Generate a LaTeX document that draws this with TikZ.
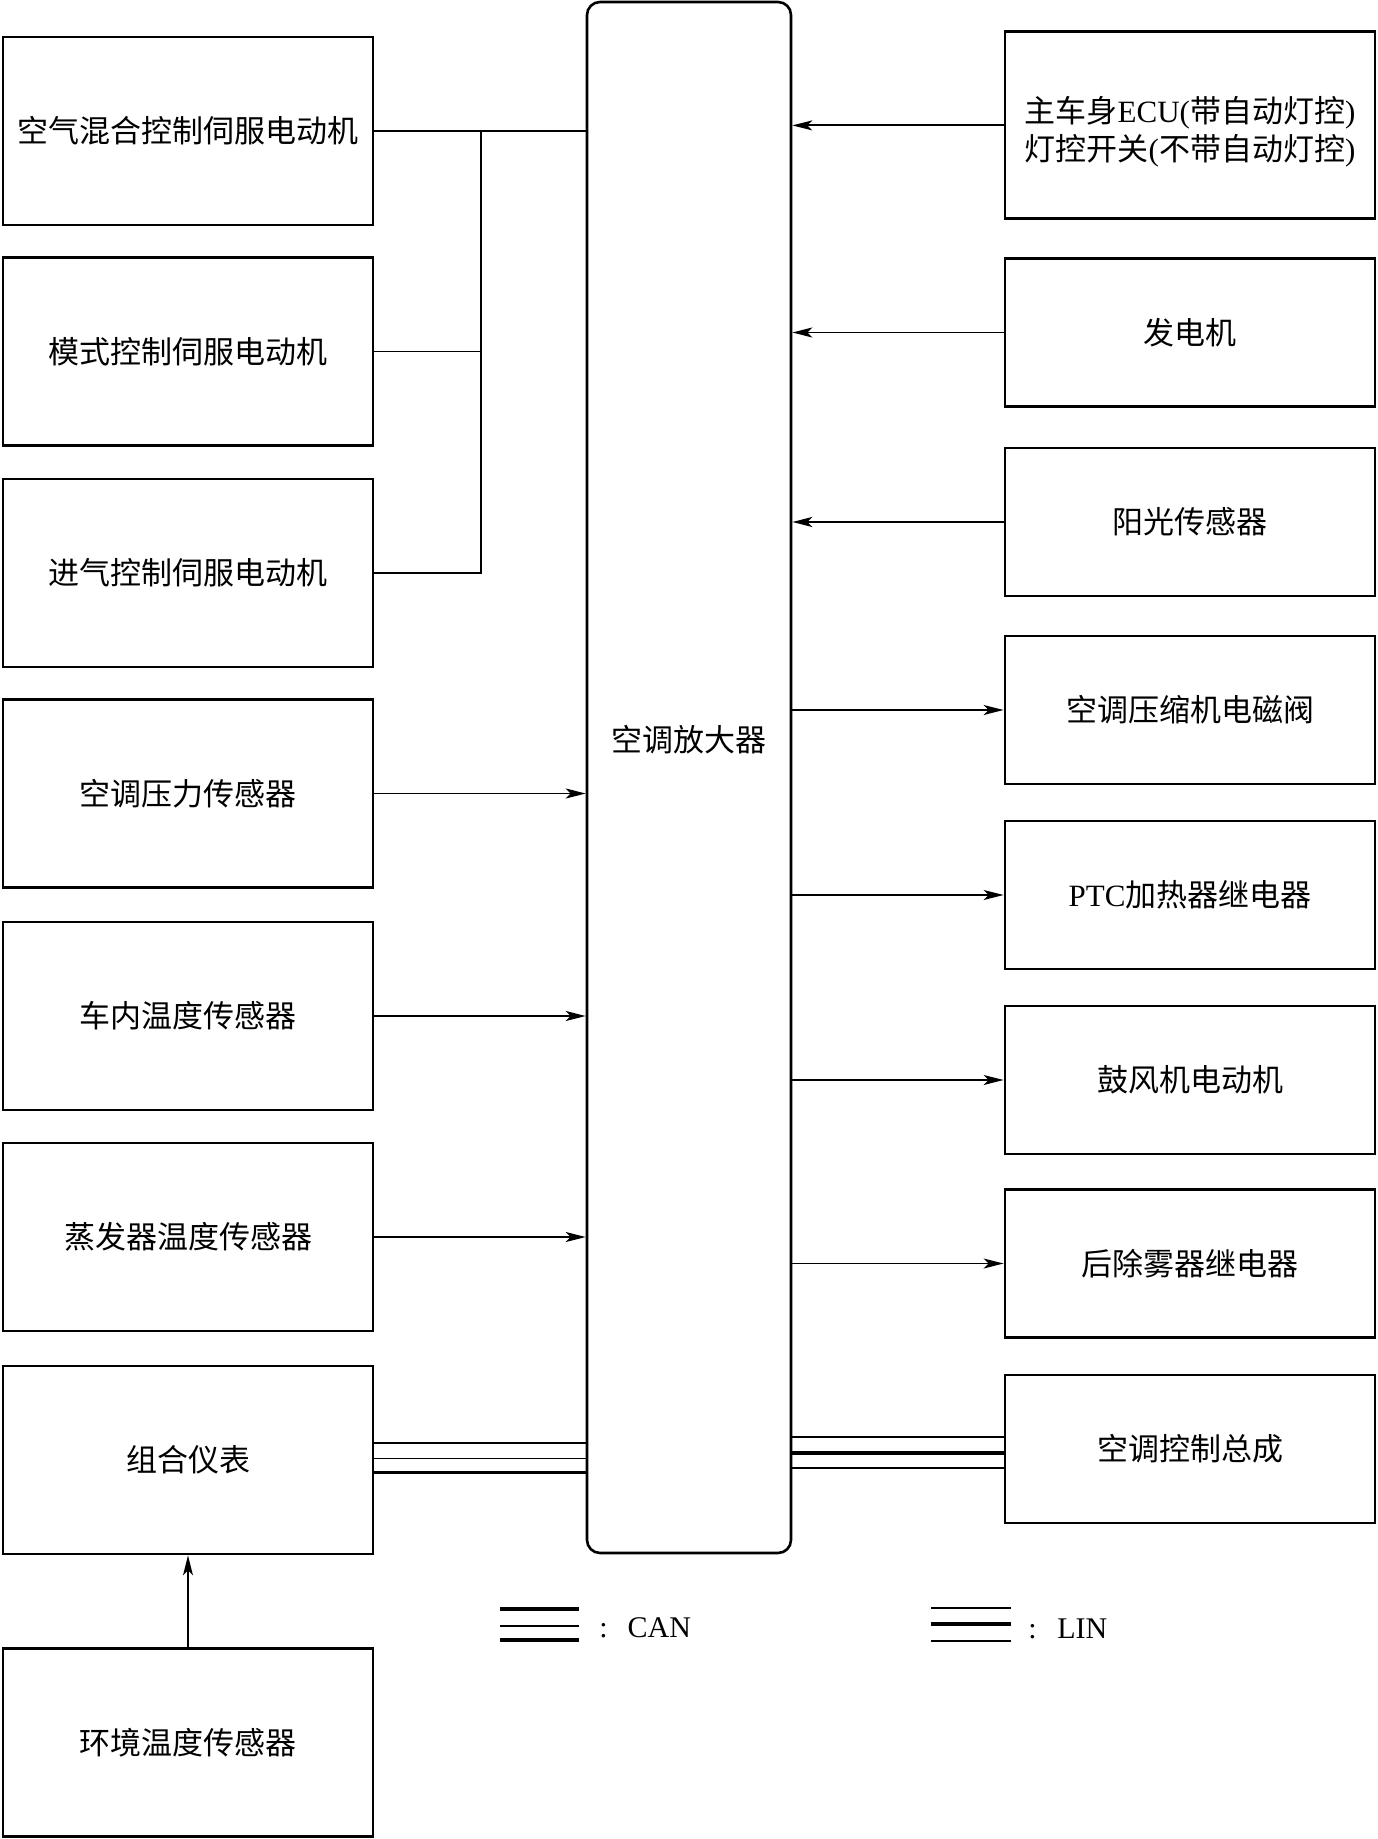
\documentclass[tikz,border=0pt]{standalone}
\usepackage{fontspec}
\setmainfont{Liberation Serif}
\newfontfamily\cjk{Noto Sans CJK SC}
\usepackage{tikz}
\usetikzlibrary{arrows.meta,calc}
\newcommand\latn[1]{{\rmfamily #1}}

\begin{document}
\begin{tikzpicture}[x=0.5pt,y=-0.5pt,
  box/.style={draw,line width=1.4pt,minimum width=185pt,minimum height=94pt,inner sep=0pt,
    align=center,font=\cjk\fontsize{15.5pt}{19pt}\selectfont},
  rbox/.style={box,minimum height=74pt},
  link/.style={line width=0.9pt},
  sig/.style={line width=0.9pt,-{Stealth[length=10pt,width=5pt,inset=2.5pt]}}]
  \useasboundingbox (0,0) rectangle (1377,1839);
  % amplifier in the middle
  \node[draw,line width=1.3pt,rounded corners=6.5pt,minimum width=102pt,minimum height=775.5pt] (amp) at (689,777.5) {};
  \node[font=\cjk\fontsize{15.5pt}{19pt}\selectfont] (amptext) at ([yshift=19pt]amp.center) {空调放大器};
  % left column
  \node[box] (mix) at (188,131) {空气混合控制伺服电动机};
  \node[box] (mode) at (188,351.5) {模式控制伺服电动机};
  \node[box] (intake) at (188,573) {进气控制伺服电动机};
  \node[box] (press) at (188,793.5) {空调压力传感器};
  \node[box] (room) at (188,1016) {车内温度传感器};
  \node[box] (evap) at (188,1237) {蒸发器温度传感器};
  \node[box] (meter) at (188,1460) {组合仪表};
  \node[box] (amb) at (188,1742.5) {环境温度传感器};
  % right column
  \node[box,minimum height=93.5pt] (body) at (1190,125.4) {\rule{0pt}{19pt}主车身\latn{ECU(}带自动灯控\latn{)}\\灯控开关\latn{(}不带自动灯控\latn{)}};
  \node[rbox] (gen) at (1190,332.5) {发电机};
  \node[rbox] (solar) at (1190,522) {阳光传感器};
  \node[rbox] (clutch) at (1190,710) {空调压缩机电磁阀};
  \node[rbox] (ptc) at (1190,895) {\latn{PTC}加热器继电器};
  \node[rbox] (blower) at (1190,1080) {鼓风机电动机};
  \node[rbox] (defog) at (1190,1263.5) {后除雾器继电器};
  \node[rbox] (panel) at (1190,1449) {空调控制总成};
  % servo motors
  \coordinate (bus) at (481,131);
  \draw[link] (mix.east) -- (mix.east -| amp.west);
  \draw[link] (mix.east -| bus) |- (intake.east);
  \draw[line width=0.5pt] (mode.east) -- (mode.east -| bus);
  % sensors
  \foreach \n in {press,room,evap}
    \draw[sig] (\n.east) -- (\n.east -| amp.west);
  \draw[sig] (amb.north) -- (meter.south);
  \foreach \n in {body,gen,solar}
    \draw[sig] (\n.west) -- (\n.west -| amp.east);
  \foreach \n in {clutch,ptc,blower,defog}
    \draw[sig] (\n.west -| amp.east) -- (\n.west);
  % CAN
  \draw[line width=1.2pt] ([yshift=8.6pt]meter.east) -- ([yshift=8.6pt]meter.east -| amp.west);
  \draw[line width=0.7pt] ([yshift=0.9pt]meter.east) -- ([yshift=0.9pt]meter.east -| amp.west);
  \draw[line width=1.2pt] ([yshift=-6.3pt]meter.east) -- ([yshift=-6.3pt]meter.east -| amp.west);
  % LIN
  \draw[line width=0.6pt] ([yshift=6pt]panel.west) -- ([yshift=6pt]panel.west -| amp.east);
  \draw[line width=2.3pt] ([yshift=-2pt]panel.west) -- ([yshift=-2pt]panel.west -| amp.east);
  \draw[line width=1pt] ([yshift=-9.5pt]panel.west) -- ([yshift=-9.5pt]panel.west -| amp.east);
  % legend
  \coordinate (cankey) at (500,1626);
  \draw[line width=1.6pt] ($(cankey)+(0,-17)$) -- ++(79,0);
  \draw[line width=0.6pt] (cankey) -- ++(79,0);
  \draw[line width=1.6pt] ($(cankey)+(0,14)$) -- ++(79,0);
  \node[anchor=west,inner sep=0pt,font=\fontsize{15pt}{19pt}\selectfont] (cantext) at (599,1628) {:\hspace{10pt}CAN};
  \coordinate (linkey) at (931,1624);
  \draw[line width=0.6pt] ($(linkey)+(0,-16)$) -- ++(80,0);
  \draw[line width=2.2pt] (linkey) -- ++(80,0);
  \draw[line width=1.3pt] ($(linkey)+(0,17)$) -- ++(80,0);
  \node[anchor=west,inner sep=0pt,font=\fontsize{15pt}{19pt}\selectfont] (lintext) at (1028,1629) {:\hspace{10.3pt}LIN};
\end{tikzpicture}
\end{document}
